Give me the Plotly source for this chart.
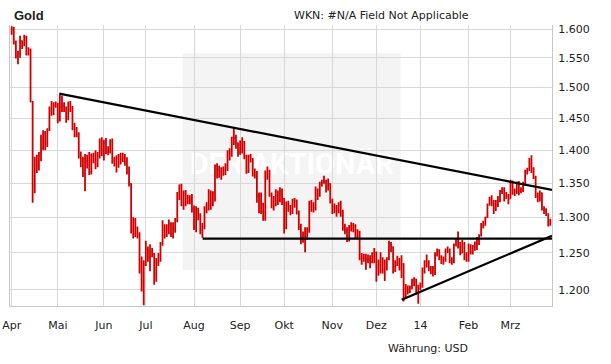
import pandas as pd
import plotly.graph_objects as go

# ---------------- data ----------------
holidays = ["2013-05-27", "2013-12-25"]
dates = [d.strftime("%Y-%m-%d") for d in pd.bdate_range("2013-04-01", "2014-03-28")
         if d.strftime("%Y-%m-%d") not in holidays]

open_ = [
    1597,1598,1576,1553,1557,1579,1575,1586,1557,1564,1477,1348,1369,1377,1392,1404,1425,1410,1432,1462,1462,1470,
    1472,1447,1468,1470,1467,1451,1473,1468,1436,1433,1425,1390,1387,1365,1384,1377,1368,1391,1386,1379,1392,1413,
    1392,1411,1397,1398,1414,1383,1386,1377,1391,1387,1388,1384,1367,1349,1280,1297,1277,1275,1231,1212,
    1234,1255,1245,1251,1248,1223,1236,1246,1263,1283,1277,1284,1291,1277,1284,1296,1334,1347,1318,1335,1322,1328,1325,
    1312,1286,1310,1302,1282,1286,1311,1312,1335,1319,1335,1376,1370,1366,1372,1370,1377,1396,1393,1419,1419,1411,
    1396,1412,1412,1389,1367,1391,1386,1363,1366,1331,1308,1317,1308,1365,1368,1333,1323,1318,1337,1325,1338,
    1327,1286,1318,1316,1309,1324,1323,1307,1286,1272,1275,1273,1282,1321,1316,1314,1340,1333,1349,1351,1352,1344,1349,
    1323,1315,1314,1310,1318,1308,1286,1281,1271,1284,1287,1288,1273,1275,1243,1243,1243,1241,1242,1238,1244,
    1250,1221,1234,1242,1227,1229,1243,1261,1258,1226,1235,1237,1230,1235,1194,1204,1197,1204,1212,1214,1205,
    1202,1205,1225,1238,1237,1230,1225,1229,1247,1254,1245,1242,1241,1254,1253,1240,1238,1262,1270,1264,1250,1262,1243,
    1240,1259,1251,1259,1264,1263,1274,1289,1290,1300,1318,1326,1321,1313,1318,1324,1338,1341,1328,1331,
    1327,1350,1336,1338,1351,1338,1340,1347,1368,1370,1379,1372,1358,1330,1331,1335,1311,1311,1304,1290,
]
high = [
    1605,1604,1580,1562,1588,1580,1590,1588,1568,1566,1478,1390,1393,1397,1424,1431,1430,1434,1469,1478,1476,1477,
    1475,1488,1487,1476,1469,1477,1478,1470,1443,1436,1428,1398,1390,1394,1393,1397,1395,1396,1400,1397,1418,1420,
    1416,1419,1406,1417,1418,1390,1392,1394,1396,1396,1394,1389,1375,1350,1300,1299,1287,1279,1245,1240,
    1267,1259,1262,1257,1250,1243,1250,1265,1296,1290,1290,1297,1293,1293,1299,1337,1348,1349,1339,1340,1333,1332,1334,
    1317,1316,1314,1306,1292,1316,1322,1341,1339,1338,1378,1380,1376,1374,1375,1380,1400,1403,1421,1434,1424,1412,
    1415,1420,1414,1393,1393,1394,1388,1372,1368,1336,1336,1321,1369,1375,1370,1336,1331,1341,1339,1344,1342,
    1328,1323,1324,1318,1327,1328,1326,1310,1291,1280,1286,1286,1324,1325,1322,1345,1342,1352,1355,1361,1355,1357,1350,
    1327,1320,1318,1322,1324,1311,1291,1286,1289,1293,1292,1290,1283,1281,1250,1249,1249,1248,1247,1251,1257,
    1252,1241,1251,1244,1241,1244,1267,1265,1259,1240,1246,1243,1247,1236,1208,1206,1206,1215,1217,1215,1207,
    1210,1230,1240,1248,1240,1232,1232,1251,1256,1255,1247,1245,1256,1259,1256,1244,1263,1270,1280,1265,1268,1265,1251,
    1263,1262,1261,1266,1272,1276,1292,1295,1301,1320,1330,1332,1325,1325,1331,1340,1344,1344,1337,1334,
    1355,1354,1342,1352,1353,1344,1352,1370,1373,1388,1392,1374,1361,1336,1339,1336,1316,1313,1306,1298,
]
low = [
    1590,1573,1549,1539,1550,1565,1570,1554,1554,1476,1321,1335,1365,1369,1383,1400,1400,1405,1430,1454,1455,1467,
    1442,1445,1460,1460,1443,1447,1460,1431,1420,1420,1387,1374,1359,1338,1372,1362,1363,1380,1371,1374,1387,1391,
    1384,1394,1392,1395,1379,1375,1366,1373,1378,1382,1376,1363,1345,1277,1270,1272,1270,1222,1198,1180,
    1232,1238,1225,1244,1207,1211,1232,1238,1260,1270,1272,1276,1272,1270,1278,1293,1325,1316,1311,1316,1319,1319,1307,
    1282,1279,1296,1276,1271,1283,1306,1310,1311,1316,1323,1357,1358,1355,1361,1362,1368,1384,1390,1408,1402,1390,
    1393,1395,1386,1364,1365,1381,1360,1357,1321,1306,1305,1295,1295,1355,1330,1313,1310,1316,1318,1322,1318,
    1277,1283,1308,1303,1305,1314,1304,1282,1262,1264,1251,1268,1278,1308,1307,1310,1325,1330,1345,1349,1336,1339,1320,
    1305,1306,1301,1306,1301,1281,1276,1265,1266,1280,1279,1270,1269,1240,1234,1238,1227,1236,1229,1236,1236,
    1211,1219,1222,1222,1212,1226,1240,1251,1222,1224,1232,1226,1216,1185,1190,1194,1196,1201,1205,1194,1182,
    1200,1203,1222,1230,1225,1221,1218,1220,1245,1240,1235,1234,1238,1250,1236,1234,1236,1259,1256,1247,1250,1240,1238,
    1238,1248,1248,1253,1254,1261,1273,1284,1288,1299,1317,1316,1305,1309,1315,1322,1334,1323,1327,1319,
    1327,1333,1331,1334,1332,1335,1337,1346,1363,1368,1365,1356,1328,1322,1323,1310,1305,1302,1287,1288,
]
close = [
    1598,1576,1553,1557,1579,1575,1586,1557,1564,1477,1348,1369,1377,1392,1404,1425,1410,1432,1462,1462,1470,1472,
    1447,1468,1470,1467,1451,1473,1468,1436,1433,1425,1390,1387,1365,1384,1377,1368,1391,1386,1379,1392,1413,1392,
    1411,1397,1398,1414,1383,1386,1377,1391,1387,1388,1384,1367,1349,1280,1297,1277,1275,1231,1212,1234,
    1255,1245,1251,1248,1223,1236,1246,1263,1283,1277,1284,1291,1277,1284,1296,1334,1347,1318,1335,1322,1328,1325,1312,
    1286,1310,1302,1282,1286,1311,1312,1335,1319,1335,1376,1370,1366,1372,1370,1377,1396,1393,1419,1419,1411,1396,
    1412,1412,1389,1367,1391,1386,1363,1366,1331,1308,1317,1308,1365,1368,1333,1323,1318,1337,1325,1338,1327,
    1286,1318,1316,1309,1324,1323,1307,1286,1272,1275,1273,1282,1321,1316,1314,1340,1333,1349,1351,1352,1344,1349,1323,
    1315,1314,1310,1318,1308,1286,1281,1271,1284,1287,1288,1273,1275,1243,1243,1243,1241,1242,1238,1244,1250,
    1221,1234,1242,1227,1229,1243,1261,1258,1226,1235,1237,1230,1235,1194,1204,1197,1204,1212,1214,1205,1202,
    1205,1225,1238,1237,1230,1225,1229,1247,1254,1245,1242,1241,1254,1253,1240,1238,1262,1270,1264,1250,1262,1243,1240,
    1259,1251,1259,1264,1263,1274,1289,1290,1300,1318,1326,1321,1313,1318,1324,1338,1341,1328,1331,1327,
    1350,1336,1338,1351,1338,1340,1347,1368,1370,1379,1372,1358,1330,1331,1335,1311,1311,1304,1290,1294,
]

# trend lines drawn on the chart: (bar index, price) end points
resistance_x = [22.7, 257.8]
resistance_y = [1490, 1340]
support_x = [91.1, 257.8]
support_y = [1270, 1270]
rising_x = [186.1, 257.8]
rising_y = [1187, 1274]

month_labels = ["Apr", "Mai", "Jun", "Jul", "Aug", "Sep", "Okt", "Nov", "Dez", "14", "Feb", "Mrz"]
y_tick_values = [1200, 1250, 1300, 1350, 1400, 1450, 1500, 1550, 1600]
y_tick_labels = ["1.200", "1.250", "1.300", "1.350", "1.400", "1.450", "1.500", "1.550", "1.600"]

# ---------------- figure ----------------
idx = list(range(len(dates)))
month_starts = [i for i, d in enumerate(dates) if i == 0 or d[:7] != dates[i - 1][:7]]

RED = "#d00000"
GRID = "#d8d8d8"
FONT = "DejaVu Sans"

fig = go.Figure()
fig.add_trace(go.Ohlc(
    x=idx, open=open_, high=high, low=low, close=close,
    increasing=dict(line=dict(color=RED, width=1.8)),
    decreasing=dict(line=dict(color=RED, width=1.8)),
    tickwidth=0.45, showlegend=False, hoverinfo="skip",
))
for xs, ys in [(resistance_x, resistance_y), (support_x, support_y), (rising_x, rising_y)]:
    fig.add_trace(go.Scatter(x=xs, y=ys, mode="lines", line=dict(color="black", width=2.2),
                             showlegend=False, hoverinfo="skip"))

W, H = 611, 364
L, R, T, B = 10, 59, 25, 58
pw, ph = W - L - R, H - T - B

def px(xp):
    return (xp - L) / pw

def py(yp):
    return (H - B - yp) / ph

fig.add_shape(type="rect", xref="paper", yref="paper",
              x0=px(182.7), x1=px(400.7), y0=py(270), y1=py(53.3),
              fillcolor="#f4f4f4", line=dict(width=0), layer="below",
              label=dict(text="DER AKTIONÄR", textposition="middle center",
                         font=dict(family="Roboto", size=29, color="white", weight="bold")))

fig.add_annotation(text="Gold", xref="paper", yref="paper", x=px(12), y=py(16),
                   xanchor="left", yanchor="middle", showarrow=False,
                   font=dict(family="Liberation Sans", size=13, color="#222", weight="bold"))
fig.add_annotation(text="WKN: #N/A Field Not Applicable", xref="paper", yref="paper",
                   x=px(471), y=py(16), xanchor="right", yanchor="middle", showarrow=False,
                   font=dict(family=FONT, size=11, color="#222"))
fig.add_annotation(text="Währung: USD", xref="paper", yref="paper",
                   x=px(470), y=py(348), xanchor="right", yanchor="middle", showarrow=False,
                   font=dict(family=FONT, size=11, color="#222"))

fig.update_layout(
    width=W, height=H, margin=dict(l=L, r=R, t=T, b=B, pad=0, autoexpand=False),
    paper_bgcolor="white", plot_bgcolor="white",
    font=dict(family=FONT, size=11, color="#222"),
    showlegend=False,
    xaxis=dict(
        range=[-0.8, 257.8], tickvals=month_starts, ticktext=month_labels,
        automargin=False,
        showgrid=True, gridcolor=GRID, gridwidth=1, zeroline=False,
        showline=True, linecolor="#c8c8c8", linewidth=1,
        ticks="outside", ticklen=9, tickcolor="rgba(0,0,0,0)",
        rangeslider=dict(visible=False), fixedrange=True,
        tickfont=dict(family=FONT, size=11, color="#222"),
    ),
    yaxis=dict(
        type="log", side="right", automargin=False,
        range=[3.07151, 3.20604],
        tickvals=y_tick_values, ticktext=y_tick_labels,
        showgrid=True, gridcolor=GRID, gridwidth=1, zeroline=False,
        showline=True, mirror=True, linecolor="#c8c8c8", linewidth=1,
        ticks="outside", ticklen=3, tickcolor="rgba(0,0,0,0)",
        tickfont=dict(family=FONT, size=11, color="#222"),
        fixedrange=True,
    ),
)

fig.write_html("out.html", config={"displayModeBar": False},
               post_script="document.body.style.margin='0';document.body.style.padding='0';")
